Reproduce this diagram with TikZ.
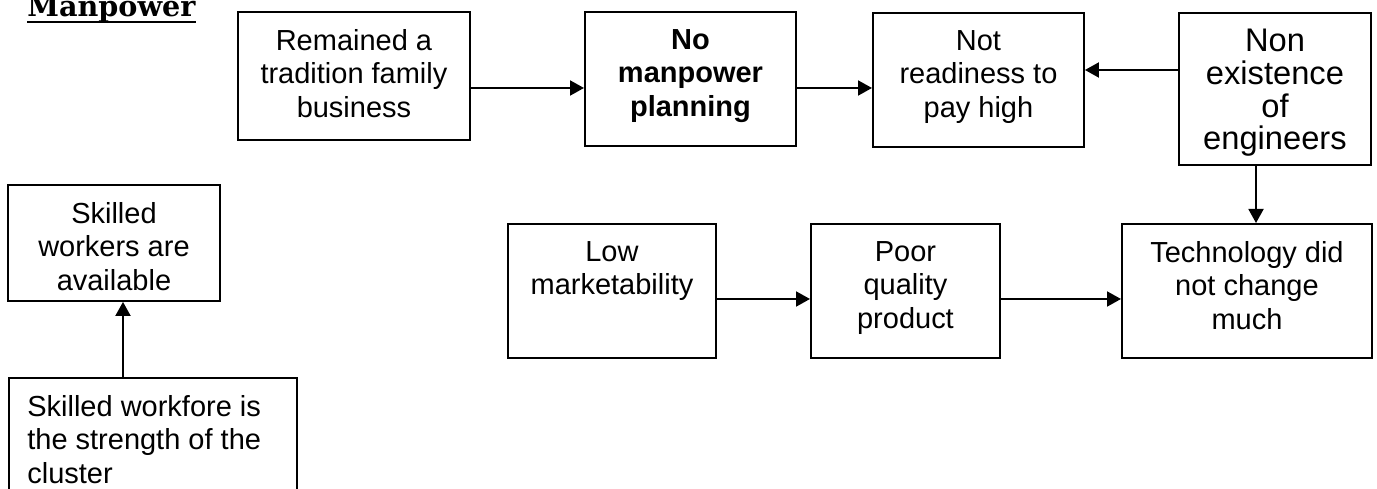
\documentclass[tikz,border=0pt]{standalone}
\usepackage{fontspec}
\setmainfont{Liberation Sans}
\newfontfamily\titleFont{DejaVu Serif}
\usepackage{tikz}
\usetikzlibrary{arrows.meta}
\newcommand{\px}{0.02cm}
\tikzstyle{pixelGrid} = [x = 0.02cm, y = -0.02cm]
\tikzstyle{boxStyle} = [draw=black, line width=1.1pt, anchor=north west, inner sep=0pt]
\tikzstyle{boxText} = [anchor=north, align=center, inner sep=0pt, font=\fontsize{16.5}{19.1}\selectfont, yshift=-18*\px]
\tikzstyle{bigText} = [font=\fontsize{18.6}{18.6}\selectfont, yshift=1*\px]
\tikzstyle{titleText} = [anchor=base west, inner sep=0pt, font=\titleFont\bfseries\fontsize{16.3}{19.1}\selectfont]
\tikzstyle{flowArrow} = [line width=1.1pt, -{Triangle[length=0.28cm, width=0.3cm]}]
\newcommand{\causeBox}[7][]{\node [boxStyle, minimum width = #5 * \px, minimum height = #6 * \px] (#2) at (#3, #4) {};
  \node [boxText, #1] (#2Text) at (#2.north) {#7};}
\begin{document}
\begin{tikzpicture}[pixelGrid]
  \useasboundingbox (0,0) rectangle (1377, 489);
  \clip (0,0) rectangle (1377, 489);
  \node [titleText] (title) at (27, 17) {Manpower};
  \draw [line width=0.04cm] ([yshift=-5*\px]title.base west) -- ([yshift=-5*\px]title.base east);

  \causeBox{family}{237}{11}{232}{128}{Remained a\\tradition family\\business}
  \causeBox{planning}{584}{11}{211}{134}{\bfseries No\\\bfseries manpower\\\bfseries planning}
  \causeBox{payHigh}{872}{12}{211}{134}{Not\\readiness to\\pay high}
  \causeBox[bigText]{engineers}{1178}{12}{192}{152}{Non\\existence\\of\\engineers}
  \causeBox{marketability}{507}{223}{208}{134}{Low\\marketability}
  \causeBox{quality}{810}{223}{189}{134}{Poor\\quality\\product}
  \causeBox{technology}{1121}{223}{250}{134}{Technology did\\not change\\much}
  \causeBox{skilledWorkers}{7}{184}{212}{116}{Skilled\\workers are\\available}
  \node [boxStyle, minimum width = 288 * \px, minimum height = 160 * \px] (workforce) at (8, 377) {};
  \node [boxText, anchor=north west, align=left, xshift=19*\px] (workforceText) at (workforce.north west) {Skilled workfore is\\the strength of the\\cluster};

  \coordinate (topRow) at (0, 88);
  \coordinate (engineerRow) at (0, 70);
  \coordinate (engineerColumn) at (1256, 0);
  \coordinate (lowRow) at (0, 299);
  \coordinate (skillColumn) at (123, 0);
  \draw [flowArrow] (family.east |- topRow) -- (planning.west |- topRow);
  \draw [flowArrow] (planning.east |- topRow) -- (payHigh.west |- topRow);
  \draw [flowArrow] (engineers.west |- engineerRow) -- (payHigh.east |- engineerRow);
  \draw [flowArrow] (engineers.south -| engineerColumn) -- (technology.north -| engineerColumn);
  \draw [flowArrow] (marketability.east |- lowRow) -- (quality.west |- lowRow);
  \draw [flowArrow] (quality.east |- lowRow) -- (technology.west |- lowRow);
  \draw [flowArrow] (workforce.north -| skillColumn) -- (skilledWorkers.south -| skillColumn);
\end{tikzpicture}
\end{document}
